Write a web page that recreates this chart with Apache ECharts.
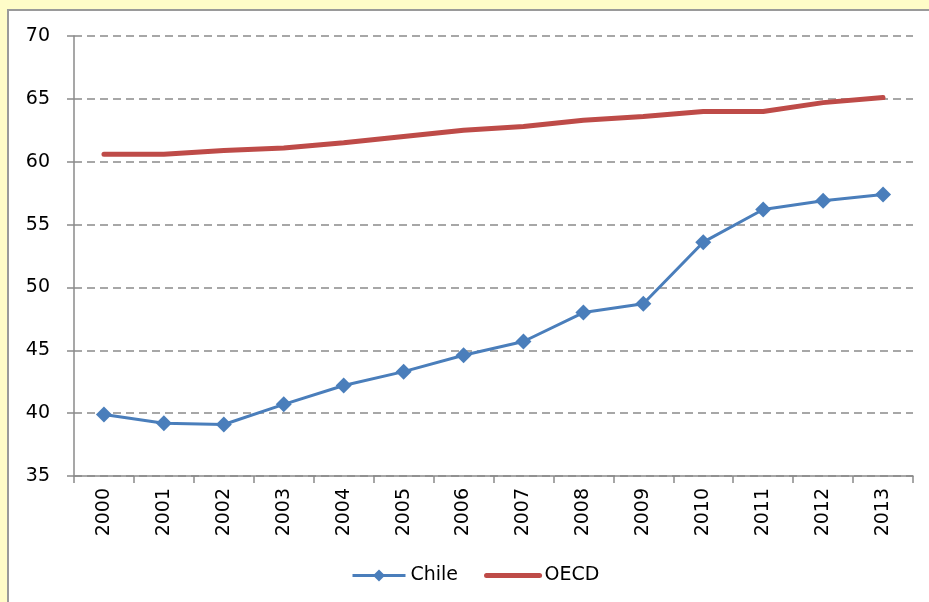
<!DOCTYPE html>
<html>
<head>
<meta charset="utf-8">
<script src="https://cdn.jsdelivr.net/npm/echarts@6/dist/echarts.min.js"></script>
<style>
  html, body { margin: 0; padding: 0; }
  body { width: 929px; height: 602px; background: #fffcc8; position: relative; overflow: hidden; }
  #panel { position: absolute; left: 7px; top: 9px; width: 940px; height: 600px;
           background: #fff; border-left: 2px solid #9a9a9a; border-top: 2px solid #9a9a9a; }
  #chart { width: 920px; height: 591px; }
</style>
</head>
<body>
<div id="panel"><div id="chart"></div></div>
<script>
  const years = ['2000', '2001', '2002', '2003', '2004', '2005', '2006',
                 '2007', '2008', '2009', '2010', '2011', '2012', '2013'];
  const chile = [39.9, 39.2, 39.1, 40.7, 42.2, 43.3, 44.6, 45.7, 48.0, 48.7, 53.6, 56.2, 56.9, 57.4];
  const oecd  = [60.6, 60.6, 60.9, 61.1, 61.5, 62.0, 62.5, 62.8, 63.3, 63.6, 64.0, 64.0, 64.7, 65.1];

  const font = 'DejaVu Sans';
  const axisGray = '#8a8a8a';
  const blue = '#4a7ebb';
  const red = '#be4b48';

  const chart = echarts.init(document.getElementById('chart'));
  chart.setOption({
    animation: false,
    textStyle: { fontFamily: font },
    grid: { left: 65, right: 16, top: 25, bottom: 126 },
    legend: {
      left: 337, bottom: 12,
      itemWidth: 53, itemHeight: 15, itemGap: 26,
      textStyle: { fontFamily: font, fontSize: 19, color: '#000' },
      data: [
        { name: 'Chile', lineStyle: { width: 3 } },
        { name: 'OECD', itemStyle: { opacity: 0 }, lineStyle: { width: 5 } }
      ]
    },
    xAxis: {
      type: 'category',
      data: years,
      boundaryGap: true,
      axisLine: { lineStyle: { color: axisGray, width: 1.5 } },
      axisTick: { show: true, length: 7, lineStyle: { color: axisGray, width: 1.5 } },
      axisLabel: { rotate: 90, margin: 12, fontSize: 19, color: '#000', fontFamily: font }
    },
    yAxis: {
      type: 'value',
      min: 35, max: 70, interval: 5,
      axisLine: { show: true, lineStyle: { color: axisGray, width: 1.5 } },
      axisTick: { show: true, length: 7, lineStyle: { color: axisGray, width: 1.5 } },
      axisLabel: { margin: 24, fontSize: 19, color: '#000', fontFamily: font },
      splitLine: { lineStyle: { color: axisGray, width: 1.5, type: [8, 5] } }
    },
    series: [
      {
        name: 'Chile', type: 'line', data: chile,
        symbol: 'diamond', symbolSize: [16, 16],
        itemStyle: { color: blue },
        lineStyle: { color: blue, width: 3 }
      },
      {
        name: 'OECD', type: 'line', data: oecd,
        symbol: 'none',
        itemStyle: { color: red },
        lineStyle: { color: red, width: 5, cap: 'round' }
      }
    ]
  });
</script>
</body>
</html>
